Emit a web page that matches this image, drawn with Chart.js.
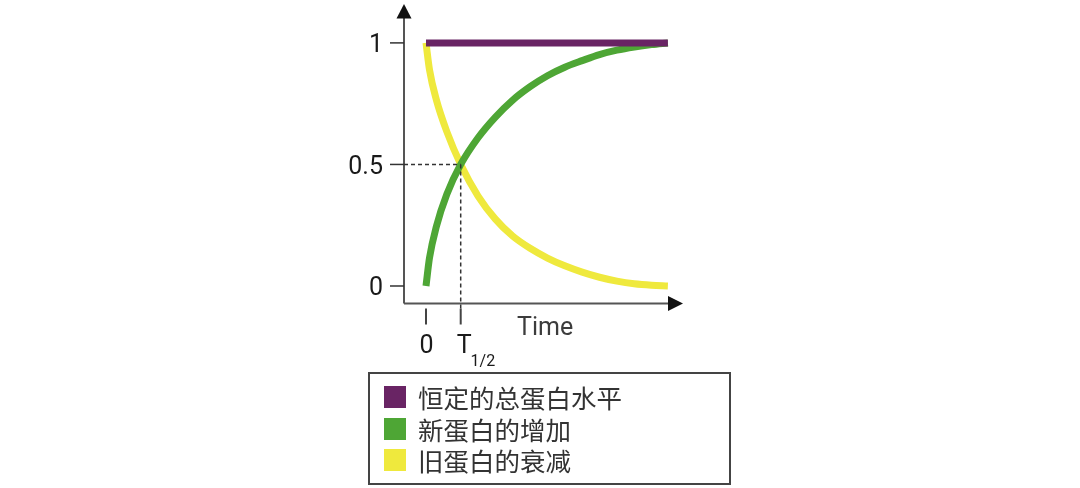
<!DOCTYPE html>
<html lang="zh-CN">
<head>
  <meta charset="UTF-8"/>
  <title>蛋白更新</title>
  <style>
    html, body { margin:0; padding:0; background:#fff; }
    #wrap { position:relative; width:1080px; height:488px; }
    #legend {
      position:absolute; left:368px; top:372px; width:359px; height:102px;
      border:2px solid #444; padding-top:7px; box-sizing:content-box;
      font-family:'Noto Sans CJK SC', 'Noto Sans', sans-serif; font-size:25.5px; color:#333;
    }
    #legend .row { display:flex; align-items:center; height:31.7px; padding-left:14px; }
    #legend .box { width:22px; height:22px; margin-right:12px; flex:none; }
    #legend .txt { line-height:31.7px; white-space:nowrap; }
  </style>
  <script src="https://cdn.jsdelivr.net/npm/chart.js"></script>
</head>
<body>
<div id="wrap">
  <canvas id="chart" width="1080" height="488"></canvas>
  <div id="legend"></div>
</div>
<script>
  // time in units of the half-life T1/2
  const times = [0, 0.1, 0.3, 0.6, 1, 1.5, 2, 2.5, 3, 3.5, 4, 4.5, 5, 5.5, 6, 6.5, 6.97];
  const oldProtein = [1, 0.89, 0.765, 0.635, 0.5, 0.37, 0.275, 0.205, 0.155, 0.115, 0.083, 0.057, 0.036, 0.02, 0.009, 0.003, 0];
  const newProtein = [0, 0.115, 0.245, 0.377, 0.5, 0.61, 0.695, 0.765, 0.82, 0.865, 0.9, 0.927, 0.952, 0.97, 0.983, 0.993, 1];
  const totalTimes = [0, 6.97];
  const totalProtein = [1, 1];

  const labels = ['恒定的总蛋白水平', '新蛋白的增加', '旧蛋白的衰减'];
  const colors = ['#692464', '#4ea635', '#efe93d'];

  const yTicks = [0, 0.5, 1];
  const yTickLabels = ['0', '0.5', '1'];
  const xTicks = [0, 1];
  const xTickLabels = ['0', 'T'];
  const xTickSub = ['', '1/2'];
  const halfLife = 1;
  const halfValue = 0.5;

  const pts = (xs, ys) => xs.map((x, i) => ({ x, y: ys[i] }));

  const axisFont = "25px Roboto, 'Noto Sans', sans-serif";

  // axes with arrow heads, ticks and dashed half-life guides
  const axesPlugin = {
    id: 'axes',
    beforeDatasetsDraw(chart) {
      const { ctx, chartArea: a, scales: { x, y } } = chart;
      ctx.save();
      ctx.strokeStyle = '#555';
      ctx.lineWidth = 2;
      ctx.beginPath();
      ctx.moveTo(a.left, a.bottom);
      ctx.lineTo(a.left, a.top + 12);
      ctx.moveTo(a.left, a.bottom);
      ctx.lineTo(a.right - 12, a.bottom);
      ctx.stroke();

      ctx.fillStyle = '#111';
      ctx.beginPath();
      ctx.moveTo(a.left, a.top);
      ctx.lineTo(a.left - 7.5, a.top + 14.5);
      ctx.lineTo(a.left + 7.5, a.top + 14.5);
      ctx.closePath();
      ctx.fill();
      ctx.beginPath();
      ctx.moveTo(a.right, a.bottom);
      ctx.lineTo(a.right - 15, a.bottom - 7.5);
      ctx.lineTo(a.right - 15, a.bottom + 7.5);
      ctx.closePath();
      ctx.fill();

      // y ticks
      ctx.strokeStyle = '#333';
      ctx.lineWidth = 1.5;
      ctx.font = axisFont;
      ctx.fillStyle = '#1a1a1a';
      ctx.textAlign = 'right';
      ctx.textBaseline = 'alphabetic';
      yTicks.forEach((v, i) => {
        const py = y.getPixelForValue(v);
        ctx.beginPath();
        ctx.moveTo(a.left - 14, py);
        ctx.lineTo(a.left, py);
        ctx.stroke();
        ctx.fillText(yTickLabels[i], a.left - 21, py + 9.5);
      });

      // x ticks
      ctx.strokeStyle = '#444';
      ctx.lineWidth = 2;
      xTicks.forEach((t, i) => {
        const px = x.getPixelForValue(t);
        ctx.beginPath();
        ctx.moveTo(px, a.bottom + 5);
        ctx.lineTo(px, a.bottom + 21);
        ctx.stroke();
        ctx.font = axisFont;
        if (xTickSub[i]) {
          ctx.textAlign = 'left';
          ctx.fillText(xTickLabels[i], px - 4, a.bottom + 49.5);
          const w = ctx.measureText(xTickLabels[i]).width;
          ctx.font = "16px Roboto, 'Noto Sans', sans-serif";
          ctx.fillText(xTickSub[i], px - 4 + w - 1, a.bottom + 62.5);
        } else {
          ctx.textAlign = 'center';
          ctx.fillText(xTickLabels[i], px + 0.5, a.bottom + 49.5);
        }
      });

      ctx.font = axisFont;
      ctx.fillStyle = '#3c3c3c';
      ctx.textAlign = 'left';
      ctx.fillText('Time', 517, a.bottom + 31.5);
      ctx.restore();
    },
    afterDatasetsDraw(chart) {
      const { ctx, chartArea: a, scales: { x, y } } = chart;
      const px = x.getPixelForValue(halfLife);
      const py = y.getPixelForValue(halfValue);
      ctx.save();
      ctx.strokeStyle = '#333';
      ctx.lineWidth = 1.5;
      ctx.setLineDash([4, 3]);
      ctx.beginPath();
      ctx.moveTo(a.left, py);
      ctx.lineTo(px, py);
      ctx.moveTo(px, py);
      ctx.lineTo(px, a.bottom + 5);
      ctx.stroke();
      ctx.restore();
    }
  };

  const chart = new Chart(document.getElementById('chart'), {
    type: 'line',
    data: {
      datasets: [
        { label: labels[0], data: pts(totalTimes, totalProtein), borderColor: colors[0], backgroundColor: colors[0] },
        { label: labels[1], data: pts(times, newProtein), borderColor: colors[1], backgroundColor: colors[1] },
        { label: labels[2], data: pts(times, oldProtein), borderColor: colors[2], backgroundColor: colors[2] }
      ]
    },
    options: {
      responsive: false,
      animation: false,
      layout: { padding: { left: 404, right: 397, top: 4, bottom: 184.5 } },
      elements: {
        line: { borderWidth: 7, borderCapStyle: 'butt', cubicInterpolationMode: 'monotone', fill: false },
        point: { radius: 0, hoverRadius: 0 }
      },
      datasets: { line: { clip: false } },
      scales: {
        x: { type: 'linear', display: false, min: -0.634, max: 7.406 },
        y: { type: 'linear', display: false, min: -0.072, max: 1.16 }
      },
      plugins: { legend: { display: false }, tooltip: { enabled: false } }
    },
    plugins: [axesPlugin]
  });

  // legend box under the plot, built from the datasets
  document.getElementById('legend').innerHTML = chart.data.datasets.map(d => `
    <div class="row"><span class="box" style="background:${d.backgroundColor}"></span><span class="txt">${d.label}</span></div>
  `).join('');
</script>
</body>
</html>
